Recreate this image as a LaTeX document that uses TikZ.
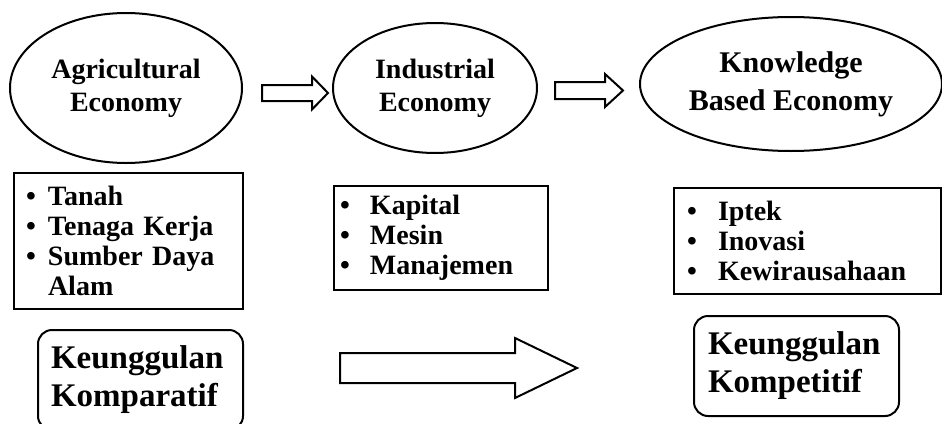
\documentclass[tikz,border=0pt]{standalone}
\usepackage{fontspec}
\setmainfont{Liberation Serif}
\usepackage{tikz}
\usetikzlibrary{shapes.geometric}
\tikzset{
  every node/.style = {font=\bfseries},
}
% hollow block arrow: tail x, head x, tip x, mid y, shaft, head
\newcommand{\blockarrow}[6]{%
  \draw[blk] ({#1},{#4-#5/2}) -- ({#2},{#4-#5/2}) -- ({#2},{#4-#6/2}) -- ({#3},{#4})
    -- ({#2},{#4+#6/2}) -- ({#2},{#4+#5/2}) -- ({#1},{#4+#5/2}) -- cycle;
}
\newcommand{\itm}[1]{\makebox[#1][l]{\textbullet}}

\begin{document}
\begin{tikzpicture}[
    x=1pt, y=-1pt,
    oval/.style={draw, ellipse, line width=2pt, inner sep=0pt, align=center,
      font=\fontsize{28}{33}\selectfont\bfseries},
    listbox/.style={draw, rectangle, line width=2pt, anchor=north west, align=left,
      inner ysep=0pt, font=\fontsize{28}{30}\selectfont\bfseries},
    result/.style={draw, rectangle, rounded corners=14pt, line width=2pt, anchor=north west,
      align=left, inner ysep=0pt, font=\fontsize{33}{38}\selectfont\bfseries},
    blk/.style={draw, line width=2pt, line join=miter},
    ]
    \clip (0,0) rectangle (942,423);
    % economies
    \node[oval, minimum width=232pt, minimum height=150pt] (agri) at (126,88) {Agricultural\\Economy};
    \node[oval, minimum width=204pt, minimum height=130pt] (indus) at (435,88) {Industrial\\Economy};
    \node[oval, minimum width=302pt, minimum height=134pt,
      font=\fontsize{30}{38}\selectfont\bfseries] (know) at (791,84) {Knowledge\\Based Economy};
    \blockarrow{262}{312}{328}{93}{16}{33}
    \blockarrow{555}{605}{623}{90.5}{17}{33}
    % factors
    \node[listbox, minimum width=229pt, minimum height=136pt, inner xsep=12pt, text width=205pt]
      (agrilist) at (13,172) {\itm{22pt}Tanah\\\itm{22pt}Tenaga Kerja\\\itm{22pt}Sumber Daya\\\hspace*{22pt}Alam};
    \node[listbox, minimum width=214pt, minimum height=104pt, inner xsep=6pt, text width=202pt]
      (induslist) at (333,185) {\itm{30pt}Kapital\\\itm{30pt}Mesin\\\itm{30pt}Manajemen};
    \node[listbox, minimum width=267pt, minimum height=106pt, inner xsep=13pt, text width=241pt]
      (knowlist) at (673,187) {\itm{31pt}Iptek\\\itm{31pt}Inovasi\\\itm{31pt}Kewirausahaan};
    % advantage
    \node[result, minimum width=205pt, minimum height=100pt, inner xsep=13pt, text width=179pt]
      (komparatif) at (37,329) {Keunggulan\\Komparatif};
    \node[result, minimum width=205pt, minimum height=100pt, inner xsep=14pt, text width=177pt]
      (kompetitif) at (693,315) {Keunggulan\\Kompetitif};
    \blockarrow{340}{515}{577}{368}{30}{60}
\end{tikzpicture}
\end{document}
